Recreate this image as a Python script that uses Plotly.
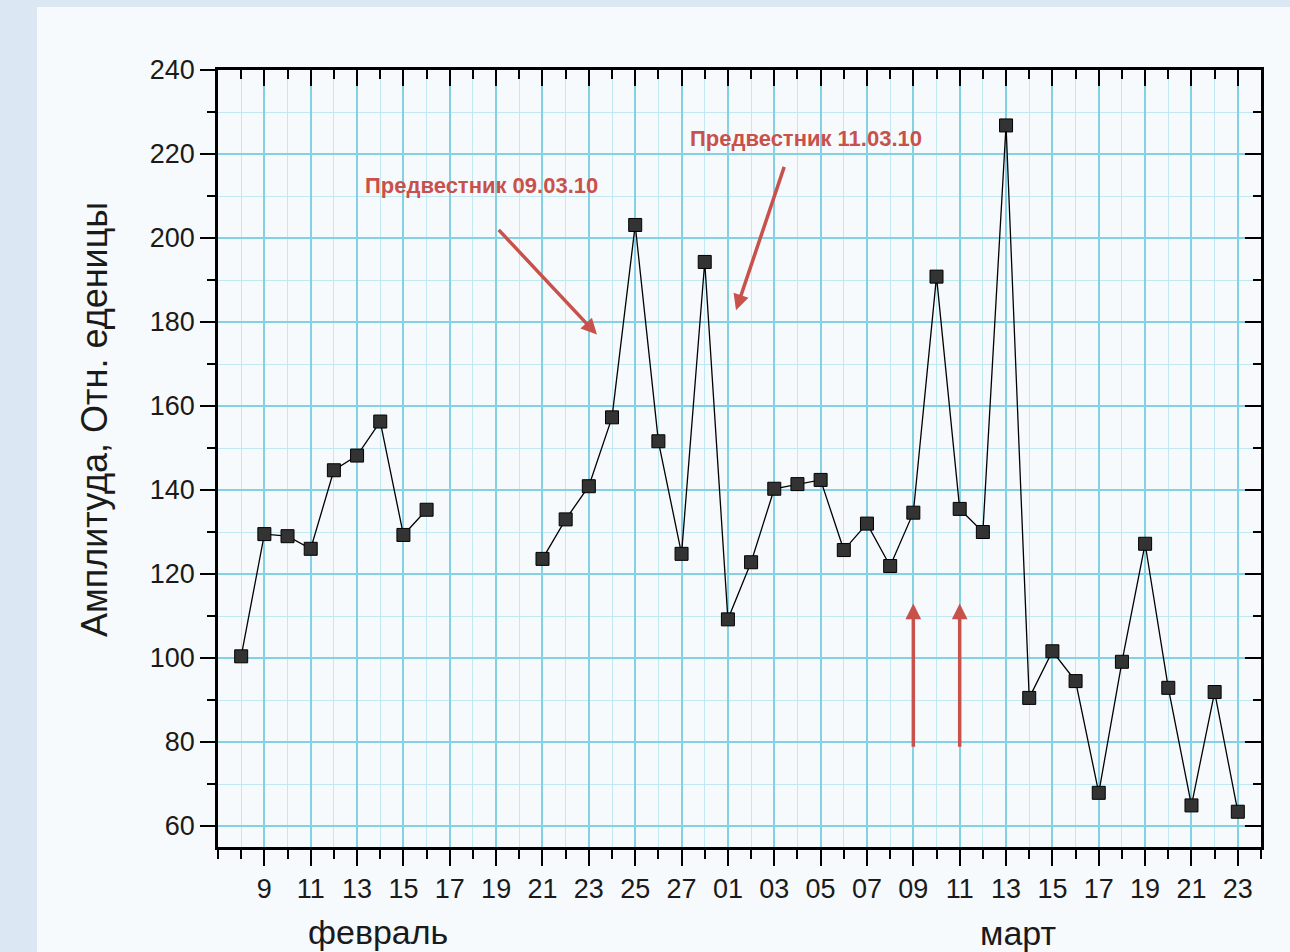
import plotly.graph_objects as go

# ---- data ----
feb_days = [8, 9, 10, 11, 12, 13, 14, 15, 16, 17, 18, 19, 20, 21, 22, 23, 24, 25, 26, 27, 28]
feb_vals = [100.4, 129.5, 129, 126, 144.7, 148.2, 156.3, 129.3, 135.3, None, None, None, None,
            123.6, 133, 140.9, 157.3, 203.1, 151.6, 124.8, 194.3]
mar_days = list(range(1, 24))
mar_vals = [109.2, 122.8, 140.3, 141.4, 142.4, 125.7, 132, 121.9, 134.6, 190.8, 135.5, 130,
            226.8, 90.5, 101.6, 94.5, 67.9, 99.1, 127.2, 92.9, 64.9, 91.9, 63.4]

x_tick_labels = ["9", "11", "13", "15", "17", "19", "21", "23", "25", "27",
                 "01", "03", "05", "07", "09", "11", "13", "15", "17", "19", "21", "23"]
precursor_labels = ["Предвестник 09.03.10", "Предвестник 11.03.10"]
y_title = "Амплитуда, Отн. еденицы"
month_labels = ["февраль", "март"]

# day index: 0 = 8 Feb 2010
x_idx = [d - 8 for d in feb_days] + [20 + d for d in mar_days]
y_vals = feb_vals + mar_vals
major_ticks = list(range(1, 44, 2))

FONT = "Liberation Sans, Arial, sans-serif"
RED = "#c9514b"
MAJ_GRID = "#84d1e4"
MIN_GRID = "#c2e9f3"

fig = go.Figure()
fig.add_trace(go.Scatter(
    x=x_idx, y=y_vals, mode="lines+markers",
    line=dict(color="black", width=1.3),
    marker=dict(symbol="square", size=13, color="#333333",
                line=dict(color="black", width=1)),
    connectgaps=False, showlegend=False, hoverinfo="x+y"))
# invisible trace for mirrored axes
fig.add_trace(go.Scatter(x=[x_idx[0]], y=[y_vals[0]], xaxis="x2", yaxis="y2",
                         mode="markers", marker=dict(opacity=0), showlegend=False,
                         hoverinfo="skip"))

L, R, T, B = 218, 29, 70, 105
W, H = 1290, 952
pw, ph = W - L - R, H - T - B

def px_x(p):
    return (p - L) / pw

def px_y(p):
    return (H - B - p) / ph

fig.update_layout(
    width=W, height=H,
    margin=dict(l=L, r=R, t=T, b=B),
    paper_bgcolor="#dbe8f3",
    plot_bgcolor="white",
    font=dict(family=FONT, size=27, color="#1a1a1a"),
    xaxis=dict(
        range=[-1, 44], tickmode="array", tickvals=major_ticks, ticktext=x_tick_labels,
        ticks="outside", ticklen=16, tickwidth=2.2, tickcolor="black",
        showline=True, linewidth=2.5, linecolor="black",
        showgrid=True, gridcolor=MAJ_GRID, gridwidth=1.6, zeroline=False,
        tickfont=dict(size=27),
        minor=dict(tickmode="linear", tick0=0, dtick=1, ticks="outside", ticklen=9,
                   tickwidth=2, tickcolor="black", showgrid=True,
                   gridcolor=MIN_GRID, gridwidth=1.2),
    ),
    xaxis2=dict(
        overlaying="x", side="top", matches="x", range=[-1, 44],
        tickmode="array", tickvals=major_ticks, showticklabels=False,
        ticks="inside", ticklen=16, tickwidth=2.2, tickcolor="black",
        showline=True, linewidth=2.5, linecolor="black", showgrid=False, zeroline=False,
        minor=dict(tickmode="linear", tick0=0, dtick=1, ticks="inside", ticklen=9,
                   tickwidth=2, tickcolor="black", showgrid=False),
    ),
    yaxis=dict(
        range=[55, 240], tickmode="linear", tick0=0, dtick=20,
        ticks="outside", ticklen=15, tickwidth=2.2, tickcolor="black",
        showline=True, linewidth=2.5, linecolor="black",
        showgrid=True, gridcolor=MAJ_GRID, gridwidth=1.6, zeroline=False,
        tickfont=dict(size=27),
        minor=dict(tickmode="linear", tick0=0, dtick=10, ticks="outside", ticklen=8,
                   tickwidth=2, tickcolor="black", showgrid=True,
                   gridcolor=MIN_GRID, gridwidth=1),
    ),
    yaxis2=dict(
        overlaying="y", side="right", matches="y", range=[55, 240],
        tickmode="linear", tick0=0, dtick=20, showticklabels=False,
        ticks="inside", ticklen=16, tickwidth=2.2, tickcolor="black",
        showline=True, linewidth=2.5, linecolor="black", showgrid=False, zeroline=False,
        minor=dict(tickmode="linear", tick0=0, dtick=10, ticks="inside", ticklen=8,
                   tickwidth=2, tickcolor="black", showgrid=False),
    ),
)

# light frame of the photographed page
fig.add_shape(type="rect", xref="paper", yref="paper", layer="below",
              x0=px_x(37), x1=px_x(W + 5), y0=px_y(H + 5), y1=px_y(7),
              fillcolor="#f7fafd", line=dict(width=0))

ann = []
# precursor texts
ann.append(dict(x=10.35, y=212.5, xref="x", yref="y", text="<b>%s</b>" % precursor_labels[0],
                showarrow=False, font=dict(size=22, color=RED)))
ann.append(dict(x=24.35, y=223.8, xref="x", yref="y", text="<b>%s</b>" % precursor_labels[1],
                showarrow=False, font=dict(size=22, color=RED)))
# slanted arrows
for (x0, y0, x1, y1) in [(11.05, 202.3, 15.35, 177.0), (23.45, 217.3, 21.35, 182.8)]:
    ann.append(dict(x=x1, y=y1, ax=x0, ay=y0, xref="x", yref="y", axref="x", ayref="y",
                    text="", showarrow=True, arrowhead=2, arrowsize=0.9, arrowwidth=3.5,
                    arrowcolor=RED))
# vertical arrows
for xv in [29, 31]:
    ann.append(dict(x=xv, y=113, ax=xv, ay=78.5, xref="x", yref="y", axref="x", ayref="y",
                    text="", showarrow=True, arrowhead=2, arrowsize=0.9, arrowwidth=3.5,
                    arrowcolor=RED))
# month labels
ann.append(dict(x=5.9, y=px_y(932), xref="x", yref="paper", text=month_labels[0],
                showarrow=False, font=dict(size=34), yanchor="middle"))
ann.append(dict(x=33.5, y=px_y(933), xref="x", yref="paper", text=month_labels[1],
                showarrow=False, font=dict(size=34), yanchor="middle"))
# y title
ann.append(dict(x=px_x(95), y=px_y(420), xref="paper", yref="paper", text=y_title,
                showarrow=False, textangle=-90, font=dict(size=36),
                xanchor="center", yanchor="middle"))
fig.update_layout(annotations=ann)

fig.write_html("out.html")
